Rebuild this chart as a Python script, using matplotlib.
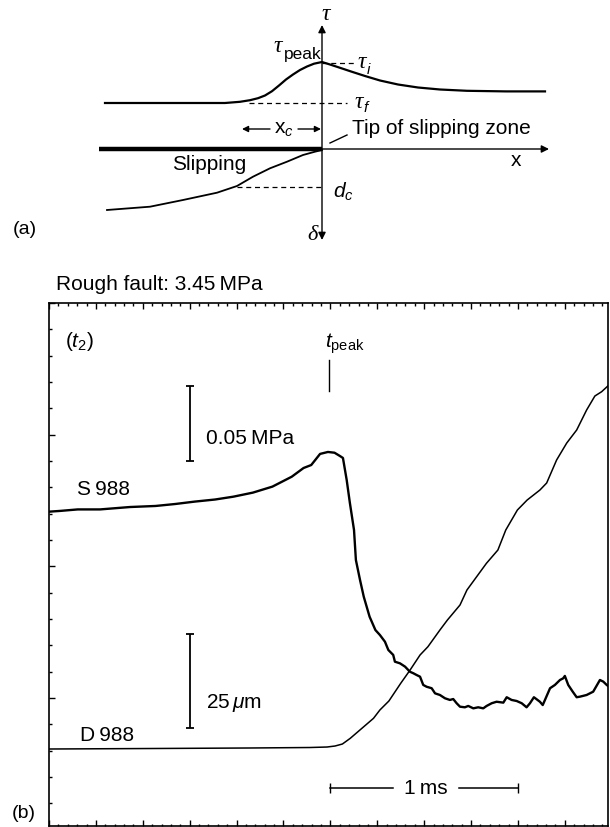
import numpy as np
import matplotlib
matplotlib.use("Agg")
import matplotlib.pyplot as plt
from matplotlib.ticker import MultipleLocator

plt.rcParams['font.family'] = ['Liberation Sans', 'DejaVu Sans']
plt.rcParams['mathtext.fontset'] = 'custom'
plt.rcParams['mathtext.rm'] = 'Liberation Sans'
plt.rcParams['mathtext.it'] = 'Liberation Sans:italic'
plt.rcParams['mathtext.bf'] = 'Liberation Sans:bold'

# ---- (a) schematic, coordinates relative to the tip of the slipping zone
tau_x = [-217, -97, -82, -72, -64, -57, -50, -43, -36, -29, -22, -15, -8, 0,
         8, 18, 30, 43, 58, 76, 96, 118, 145, 184, 223]
tau_y = [46, 46, 47.2, 48.8, 50.8, 53.5, 57.8, 63.5, 69.5, 74.5, 79, 82.5, 85.3, 87,
         84.5, 81.2, 77.2, 73, 68.5, 64.5, 61.5, 59.5, 58.2, 57.6, 57.6]
slip_x = [-215, -172, -139, -105, -85, -69, -52, -35, -19, -7, 0]
slip_y = [-61, -57.7, -51, -43.7, -37, -27.7, -19.3, -12.7, -6, -2.7, -1]

# ---- (b) measured records: time in ms
s_t = [0.000, 0.059, 0.153, 0.272, 0.432, 0.568, 0.672, 0.776, 0.885, 0.983,
       1.087, 1.191, 1.294, 1.357, 1.398, 1.445, 1.487, 1.522, 1.551, 1.567,
       1.587, 1.604, 1.626, 1.636, 1.658, 1.678, 1.709, 1.740,
       1.764, 1.791, 1.809, 1.835, 1.844, 1.871, 1.898, 1.924, 1.942, 1.960,
       1.978, 1.995, 2.013, 2.040, 2.058, 2.084, 2.111, 2.137, 2.155, 2.173,
       2.191, 2.217, 2.235, 2.262, 2.288, 2.315, 2.333, 2.360, 2.386, 2.422,
       2.440, 2.466, 2.493, 2.520, 2.546, 2.564, 2.585, 2.600, 2.617, 2.632,
       2.644, 2.671, 2.697, 2.724, 2.741, 2.750, 2.768, 2.792, 2.813, 2.831,
       2.866, 2.901, 2.937, 2.955, 2.973, 2.990]
# shear stress change S988 (MPa)
s_val = [0.0000, 0.0005, 0.0015, 0.0015, 0.0031, 0.0038, 0.0051, 0.0067, 0.0081, 0.0100,
         0.0127, 0.0167, 0.0233, 0.0291, 0.0311, 0.0385, 0.0398, 0.0393, 0.0371, 0.0358,
         0.0211, 0.0058, -0.0122, -0.0322, -0.0455, -0.0567, -0.0700, -0.0789,
         -0.0822, -0.0867, -0.0922, -0.0955, -0.1000, -0.1011, -0.1033, -0.1067, -0.1077, -0.1089,
         -0.1100, -0.1155, -0.1167, -0.1177, -0.1211, -0.1222, -0.1244, -0.1255, -0.1249, -0.1277,
         -0.1300, -0.1304, -0.1295, -0.1311, -0.1304, -0.1311, -0.1295, -0.1277, -0.1267, -0.1273,
         -0.1237, -0.1255, -0.1262, -0.1277, -0.1304, -0.1277, -0.1237, -0.1251, -0.1267, -0.1289,
         -0.1255, -0.1177, -0.1155, -0.1122, -0.1111, -0.1095, -0.1155, -0.1200, -0.1237, -0.1233,
         -0.1222, -0.1200, -0.1122, -0.1133, -0.1155, -0.1171]

d_t = [0.000, 0.538, 1.071, 1.391, 1.482, 1.525, 1.564, 1.606, 1.668, 1.730,
       1.764, 1.812, 1.875, 1.924, 1.978, 2.020, 2.084, 2.124, 2.191, 2.228,
       2.332, 2.393, 2.435, 2.497, 2.549, 2.617, 2.653, 2.706, 2.760, 2.813,
       2.866, 2.910, 2.946, 2.985]
# slip D988 (micrometres)
d_val = [0.0, 0.13, 0.27, 0.40, 0.53, 0.80, 1.33, 2.85, 5.52, 8.19,
         10.41, 12.81, 17.53, 21.00, 25.08, 27.29, 31.75, 34.42, 38.42, 42.42,
         49.55, 53.09, 58.43, 63.77, 66.43, 69.10, 70.97, 77.11, 81.64, 85.11,
         90.45, 94.18, 95.33, 97.12]

W, H = 610, 827
fig = plt.figure(figsize=(W / 100, H / 100), dpi=100)

SERIF = dict(family=['Liberation Serif', 'DejaVu Serif'], style='italic')
FS = 15

# ---------------- panel (a)
ax_a = fig.add_axes([0, 1 - 260 / H, 1, 260 / H])
ax_a.set_xlim(-322, 288)
ax_a.set_ylim(-111, 149)
ax_a.set_axis_off()

ax_a.plot(tau_x, tau_y, color='k', lw=1.6)
ax_a.plot(slip_x, slip_y, color='k', lw=1.3)
ax_a.plot([-223, 0], [0, 0], color='k', lw=3.2, solid_capstyle='butt')
ax_a.annotate('', xy=(227, 0), xytext=(0, 0),
              arrowprops=dict(arrowstyle='-|>', lw=1.0, color='k', mutation_scale=11,
                              shrinkA=0, shrinkB=0))
ax_a.annotate('', xy=(0, 124), xytext=(0, -91),
              arrowprops=dict(arrowstyle='<|-|>', lw=1.0, color='k', mutation_scale=11,
                              shrinkA=0, shrinkB=0))
# dashed guides
ax_a.plot([-73, 25], [46, 46], color='k', lw=0.9, ls=(0, (4, 3)))
ax_a.plot([0, 33], [86, 86], color='k', lw=0.9, ls=(0, (4, 3)))
ax_a.plot([-85, 0], [-37.5, -37.5], color='k', lw=0.9, ls=(0, (4, 3)))
# x_c arrows
ax_a.annotate('', xy=(-80, 20), xytext=(-52, 20),
              arrowprops=dict(arrowstyle='-|>', lw=1.0, color='k', mutation_scale=9,
                              shrinkA=0, shrinkB=0))
ax_a.annotate('', xy=(-1, 20), xytext=(-24, 20),
              arrowprops=dict(arrowstyle='-|>', lw=1.0, color='k', mutation_scale=9,
                              shrinkA=0, shrinkB=0))
ax_a.plot([8, 25], [6, 14], color='k', lw=1.0)

ax_a.text(-38, 20, r'$\mathrm{x}_c$', fontsize=FS, ha='center', va='center')
ax_a.text(30, 21, 'Tip of slipping zone', fontsize=FS, ha='left', va='center')
ax_a.text(194, -11, 'x', fontsize=FS, ha='center', va='center')
ax_a.text(-113, -16, 'Slipping', fontsize=FS, ha='center', va='center')
ax_a.text(11, -43, r'$d_c$', fontsize=FS, ha='left', va='center')
ax_a.text(-9, -86, 'δ', fontsize=16, ha='center', va='center', **SERIF)
ax_a.text(4, 135, 'τ', fontsize=17, ha='center', va='center', **SERIF)
ax_a.text(-44, 102, 'τ', fontsize=17, ha='center', va='center', **SERIF)
ax_a.text(-38, 94, 'peak', fontsize=12.5, ha='left', va='center')
ax_a.text(39.5, 86, 'τ', fontsize=17, ha='center', va='center', **SERIF)
ax_a.text(43.5, 80, r'$i$', fontsize=11, ha='left', va='center')
ax_a.text(36.5, 46.5, 'τ', fontsize=17, ha='center', va='center', **SERIF)
ax_a.text(41, 41, r'$f$', fontsize=11, ha='left', va='center')
ax_a.text(-297, -81, '(a)', fontsize=14, ha='center', va='center')

# ---------------- panel (b)
ax = fig.add_axes([49 / W, 1.5 / H, 559 / W, 522.5 / H])
ax.set_xlim(0, 2.98)
ax.set_ylim(0.16, 20)
ax.xaxis.set_major_locator(MultipleLocator(0.25))
ax.xaxis.set_minor_locator(MultipleLocator(0.05))
ax.yaxis.set_major_locator(MultipleLocator(5))
ax.yaxis.set_minor_locator(MultipleLocator(1))
ax.tick_params(which='both', direction='in', top=True, right=True,
               labelbottom=False, labelleft=False, width=1.0)
ax.tick_params(which='major', length=4.5)
ax.tick_params(which='minor', length=1.8)
for sp in ax.spines.values():
    sp.set_linewidth(1.2)

ax_s = ax.twinx()
ax_s.set_ylim(-0.2092, 0.1391)
ax_s.set_axis_off()
ax_d = ax.twinx()
ax_d.set_ylim(-20.41, 119.0)
ax_d.set_axis_off()

ax_s.plot(s_t, s_val, color='k', lw=1.7)
ax_d.plot(d_t, d_val, color='k', lw=1.1)

# scale bars
ax_s.errorbar([0.75], [0.0588], yerr=0.025, color='k', lw=1.3, capsize=3, capthick=1.3)
ax_s.text(0.837, 0.0491, '0.05\u2009MPa', fontsize=FS, ha='left', va='center')
ax_d.errorbar([0.752], [18.18], yerr=12.5, color='k', lw=1.3, capsize=3, capthick=1.3)
ax_d.text(0.837, 12.27, r'25$\,\mu$m', fontsize=FS, ha='left', va='center')

ax.plot([1.5, 1.834], [1.58, 1.58], color='k', lw=1.1, marker='|', ms=7, markevery=[0])
ax.plot([2.186, 2.5], [1.58, 1.58], color='k', lw=1.1, marker='|', ms=7, markevery=[1])
ax.text(2.01, 1.58, '1\u2009ms', fontsize=FS, ha='center', va='center')

# t_peak marker
ax_s.plot([1.4925, 1.4925], [0.0805, 0.1011], color='k', lw=1.0)
ax_s.text(1.471, 0.1118, r'$t_{\mathrm{peak}}$', fontsize=FS, ha='left', va='center')

ax.text(0.085, 18.53, r'$(t_2)$', fontsize=FS, ha='left', va='center')
ax.text(0.148, 12.93, 'S\u2009988', fontsize=FS, ha='left', va='center')
ax.text(0.165, 3.56, 'D\u2009988', fontsize=FS, ha='left', va='center')

fig.text(56 / W, 1 - 285 / H, 'Rough fault: 3.45\u2009MPa', fontsize=FS, ha='left', va='center')
fig.text(24 / W, 1 - 813 / H, '(b)', fontsize=14, ha='center', va='center')

fig.savefig('out.png', dpi=100)
